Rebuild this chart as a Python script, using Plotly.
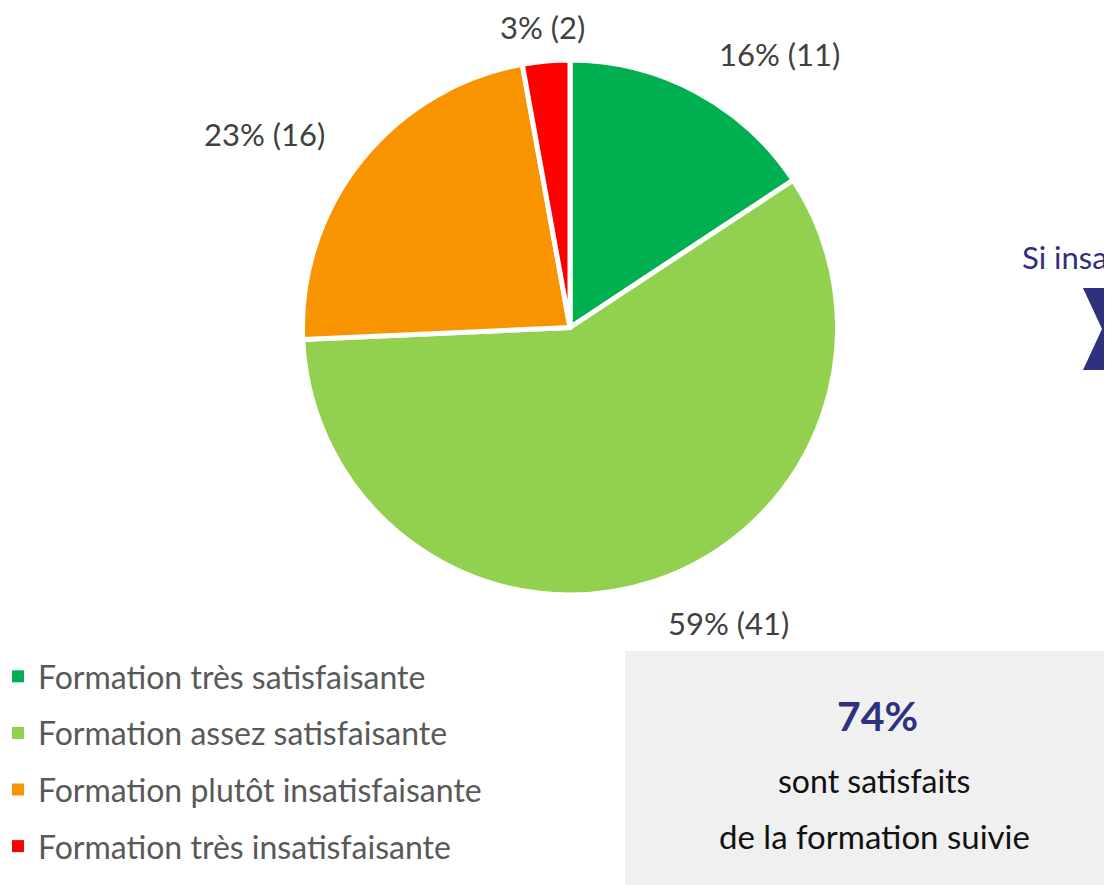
import math
import plotly.graph_objects as go

labels = ["Formation très satisfaisante", "Formation assez satisfaisante",
          "Formation plutôt insatisfaisante", "Formation très insatisfaisante"]
counts = [11, 41, 16, 2]
colors = ["#00b050", "#92d050", "#f79400", "#ff0000"]

satisfied_pct = "74%"
box_lines = ["sont satisfaits", "de la formation suivie"]
side_text = "Si insatisfaits"

OFF = 8  # page body margin
W, H = 1112 - OFF, 885 - OFF
FONT = "Lato, Open Sans, sans-serif"


def X(px):
    return (px - OFF) / W


def Y(py):
    return 1 - (py - OFF) / H


# pie geometry (viewport pixels)
cx, cy, R = 570, 327.5, 267.5
fig = go.Figure()
fig.add_trace(go.Pie(
    labels=labels, values=counts, sort=False, direction="clockwise", rotation=0,
    marker=dict(colors=colors, line=dict(color="white", width=5)),
    textinfo="none", showlegend=False, hoverinfo="label+value+percent",
    domain=dict(x=[X(cx - R), X(cx + R)], y=[Y(cy + R), Y(cy - R)]),
))

# legend entries
for i, (lab, col) in enumerate(zip(labels, colors)):
    fig.add_trace(go.Scatter(
        x=[None], y=[None], mode="markers", name=lab, legendgroup=f"g{i}",
        marker=dict(symbol="square", size=12, color=col),
        showlegend=True,
    ))

# outside labels computed from data
total = sum(counts)
annotations = []
cum = 0
for v in counts:
    mid = (cum + v / 2) / total * 2 * math.pi
    cum += v
    r = 1.16 * R
    px = cx + r * math.sin(mid)
    py = max(cy - r * math.cos(mid), 27)
    s = math.sin(mid)
    xa = "left" if s > 0.2 else ("right" if s < -0.2 else "center")
    pct = round(v / total * 100)
    annotations.append(dict(
        x=X(px), y=Y(py), xref="paper", yref="paper",
        text=f"{pct}% ({v})", showarrow=False, xanchor=xa, yanchor="middle",
        font=dict(family=FONT, size=31, color="#404040"),
    ))

# box text
annotations += [
    dict(x=X(877), y=Y(715), xref="paper", yref="paper", text=f"<b>{satisfied_pct}</b>",
         showarrow=False, xanchor="center", yanchor="middle",
         font=dict(family=FONT, size=41, color="#2e3080")),
    dict(x=X(874), y=Y(780), xref="paper", yref="paper", text=box_lines[0],
         showarrow=False, xanchor="center", yanchor="middle",
         font=dict(family=FONT, size=32, color="#111111")),
    dict(x=X(874), y=Y(836), xref="paper", yref="paper", text=box_lines[1],
         showarrow=False, xanchor="center", yanchor="middle",
         font=dict(family=FONT, size=33, color="#111111")),
    dict(x=X(1020), y=Y(257), xref="paper", yref="paper", text=side_text,
         showarrow=False, xanchor="left", yanchor="middle",
         font=dict(family=FONT, size=31, color="#2e3080")),
]


def P(x, y):
    return f"{X(x):.5f},{Y(y):.5f}"


shapes = [
    dict(type="rect", xref="paper", yref="paper", x0=X(625), x1=1.02,
         y0=-0.02, y1=Y(651), fillcolor="#f0f0f0", line=dict(width=0), layer="below"),
    dict(type="path", xref="paper", yref="paper",
         path=f"M{P(1083,288)} L{P(1130,288)} L{P(1150,329)} L{P(1130,370)} L{P(1083,370)} L{P(1102,329)} Z",
         fillcolor="#2e3080", line=dict(width=0)),
]

fig.update_layout(
    width=W, height=H, margin=dict(l=0, r=0, t=0, b=0, autoexpand=False),
    paper_bgcolor="white", plot_bgcolor="white",
    xaxis=dict(visible=False), yaxis=dict(visible=False),
    annotations=annotations, shapes=shapes,
    legend=dict(x=X(-2), y=Y(649), xanchor="left", yanchor="top",
                font=dict(family=FONT, size=32, color="#595959"),
                tracegroupgap=12, bgcolor="rgba(0,0,0,0)"),
    font=dict(family=FONT),
)

fig.write_html("out.html")
